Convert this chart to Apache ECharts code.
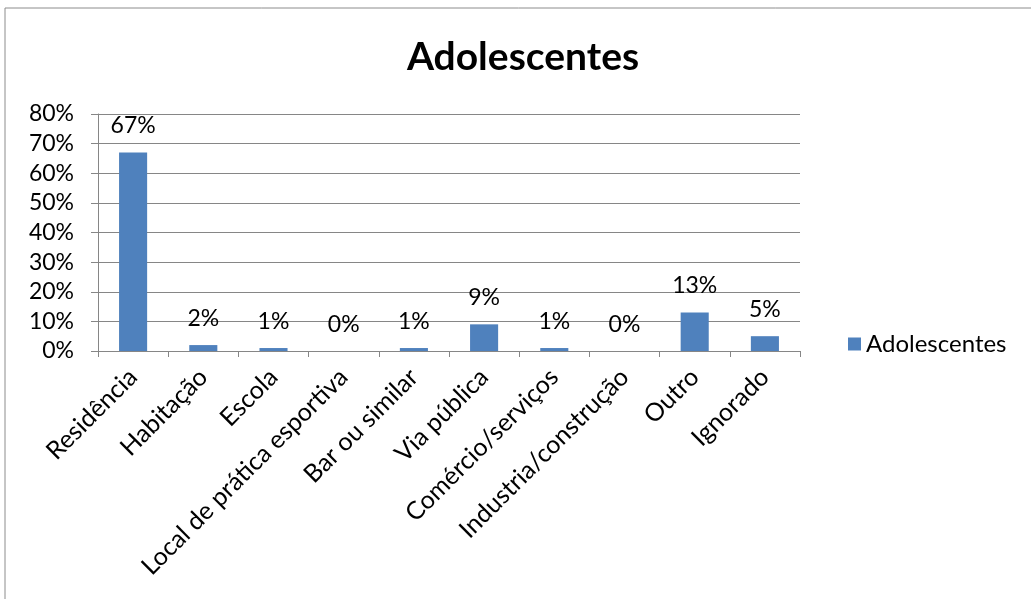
<!DOCTYPE html>
<html>
<head>
<meta charset="utf-8">
<script src="https://cdn.jsdelivr.net/npm/echarts@6/dist/echarts.min.js"></script>
<style>
  html, body { margin: 0; padding: 0; background: #fff; }
  #chart { width: 1031px; height: 599px; }
</style>
</head>
<body>
<div id="chart"></div>
<script>
// categorias e valores (%)
var categories = ['Residência', 'Habitação', 'Escola', 'Local de prática esportiva', 'Bar ou similar',
  'Via pública', 'Comércio/serviços', 'Industria/construção', 'Outro', 'Ignorado'];
var values = [67, 2, 1, 0, 1, 9, 1, 0, 13, 5];
var seriesName = 'Adolescentes';
var yTicks = [0, 10, 20, 30, 40, 50, 60, 70, 80];

var fontFam = 'Lato, "Open Sans", sans-serif';
var chart = echarts.init(document.getElementById('chart'));

var option = {
  backgroundColor: '#fff',
  animation: false,
  textStyle: { fontFamily: fontFam, color: '#000' },
  title: {
    text: 'Adolescentes',
    left: 518,
    textAlign: 'center',
    top: 33,
    textStyle: { fontFamily: fontFam, fontSize: 39, fontWeight: 'bold', color: '#000' }
  },
  legend: {
    data: [seriesName],
    left: 843,
    top: 327,
    itemWidth: 13,
    itemHeight: 13,
    itemGap: 8,
    icon: 'rect',
    textStyle: { fontFamily: fontFam, fontSize: 24, color: '#000' }
  },
  graphic: [{
    type: 'rect',
    shape: { x: 5, y: 8, width: 1040, height: 620 },
    style: { fill: 'none', stroke: '#8c8c8c', lineWidth: 1 },
    silent: true
  }],
  grid: { left: 98, right: 231, top: 114, bottom: 248, containLabel: false },
  xAxis: {
    type: 'category',
    data: categories,
    boundaryGap: true,
    axisLine: { show: true, lineStyle: { color: '#868686', width: 1 } },
    axisTick: { show: true, length: 6, alignWithLabel: false, lineStyle: { color: '#868686' } },
    axisLabel: {
      interval: 0,
      rotate: 45,
      margin: 22,
      fontFamily: fontFam,
      fontSize: 25,
      color: '#000'
    }
  },
  yAxis: {
    type: 'value',
    min: yTicks[0],
    max: yTicks[yTicks.length - 1],
    interval: 10,
    axisLine: { show: true, lineStyle: { color: '#868686', width: 1 } },
    axisTick: { show: true, length: 7, lineStyle: { color: '#868686' } },
    splitLine: { show: true, lineStyle: { color: '#868686', width: 1 } },
    axisLabel: {
      margin: 24,
      fontFamily: fontFam,
      fontSize: 23,
      color: '#000',
      formatter: function (v) { return v + '%'; }
    }
  },
  series: [{
    name: seriesName,
    type: 'bar',
    data: values,
    barCategoryGap: '60%',
    itemStyle: { color: '#4F81BD' },
    label: {
      show: true,
      position: 'top',
      distance: 15,
      fontFamily: fontFam,
      fontSize: 23,
      color: '#000',
      formatter: function (p) { return p.value + '%'; }
    }
  }]
};

chart.setOption(option);
</script>
</body>
</html>
